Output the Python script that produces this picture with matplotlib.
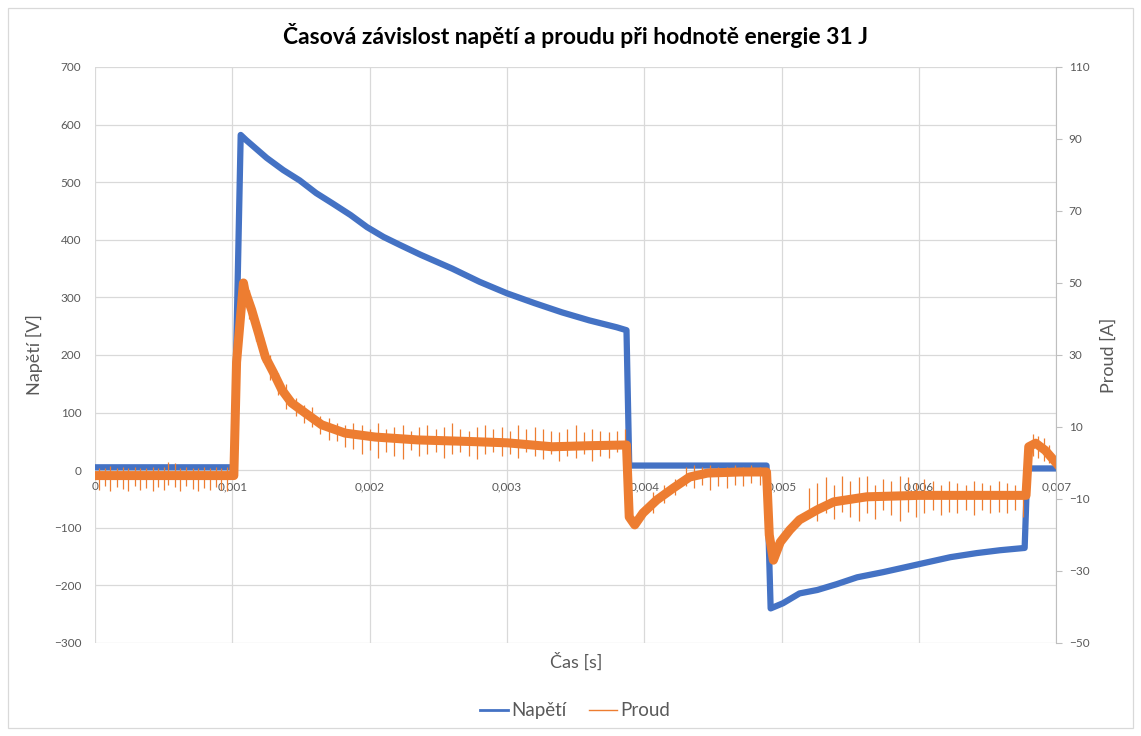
import numpy as np
import matplotlib
matplotlib.use("Agg")
import matplotlib.pyplot as plt
from matplotlib.lines import Line2D
from matplotlib.patches import Rectangle

plt.rcParams['font.family'] = ['Lato', 'DejaVu Sans']

# Voltage trace (time in ms, voltage in V)
V_T_MS = [0, 1.01, 1.06, 1.10, 1.25, 1.37, 1.49, 1.61, 1.73, 1.86, 1.98, 2.10, 2.22,
          2.37, 2.60, 2.80, 3.00, 3.20, 3.40, 3.60, 3.80, 3.87, 3.89,
          4.89, 4.92, 5.01, 5.13, 5.26, 5.40, 5.55, 5.74, 5.91, 6.06, 6.23, 6.42, 6.59,
          6.77, 6.79, 7.00]
V_VALUES = [5, 5, 582, 573, 542, 521, 503, 481, 463, 443, 422, 405, 391,
            374, 350, 327, 307, 290, 274, 260, 248, 243, 8,
            8, -240, -231, -214, -208, -198, -186, -177, -168, -160, -151, -144, -139,
            -135, 3, 3]

# Current trace (time in ms, current in A)
I_T_MS = [0, 1.01, 1.03, 1.08, 1.09, 1.14, 1.19, 1.24, 1.30, 1.36, 1.43, 1.53, 1.65,
          1.82, 2.04, 2.35, 2.70, 3.00, 3.33, 3.60, 3.87, 3.89, 3.93, 3.99, 4.09,
          4.21, 4.33, 4.46, 4.70, 4.89, 4.91, 4.94, 4.99, 5.06, 5.13, 5.26, 5.38,
          5.62, 6.00, 6.40, 6.78, 6.80, 6.85, 6.92, 7.00]
I_VALUES = [-3.5, -3.5, 28, 50, 48, 42.5, 36, 29.4, 25, 20.3, 16.7, 13.9, 10.6,
            8.3, 7.2, 6.4, 6.0, 5.6, 4.5, 4.8, 5.0, -15, -17.2, -13.9, -10.3,
            -7.0, -3.9, -2.8, -2.5, -2.5, -20, -27, -22, -18.6, -15.8, -13, -10.8,
            -9.4, -9.0, -9.0, -9.0, 4.5, 5.5, 3.5, 0]

# Noise spikes on the current trace (time in ms, low and high ends in A)
SPIKE_T_MS = [0.03, 0.07, 0.11, 0.16, 0.20, 0.24, 0.29, 0.33, 0.37, 0.42, 0.46, 0.50,
              0.53, 0.58, 0.62, 0.66, 0.71, 0.75, 0.79, 0.84, 0.88, 0.92, 0.96,
              1.12, 1.17, 1.22, 1.27, 1.33, 1.39, 1.46, 1.52, 1.58, 1.64, 1.70, 1.76,
              1.82, 1.88,
              1.94, 2.00, 2.06, 2.12, 2.18, 2.24, 2.30, 2.36, 2.42, 2.48, 2.54, 2.60,
              2.66, 2.72, 2.78, 2.84, 2.90, 2.96, 3.02, 3.08, 3.14, 3.20, 3.26, 3.32,
              3.38, 3.44, 3.50, 3.56, 3.62, 3.68, 3.74, 3.80, 3.86,
              4.06, 4.14, 4.22, 4.30, 4.36, 4.42, 4.48, 4.54, 4.60, 4.66, 4.72, 4.78,
              4.84,
              5.20, 5.26, 5.32, 5.38, 5.44, 5.50, 5.56, 5.62, 5.68, 5.74, 5.80, 5.86,
              5.92, 5.98, 6.04, 6.10, 6.16, 6.22, 6.28, 6.34, 6.40, 6.46, 6.52, 6.58,
              6.64, 6.70, 6.76,
              6.83, 6.87, 6.91, 6.95, 6.99]
SPIKE_LO = [-7.5, -6.5, -7.8, -6.8, -7.2, -7.9, -6.4, -7.5, -6.9, -7.7, -6.6, -7.4,
            -6.2, -6.8, -7.9, -6.5, -7.3, -7.8, -6.9, -7.6, -6.7, -7.4, -7.9,
            40, 34, 28, 23, 19, 15, 13, 11, 10, 8, 6.5, 6, 4.5, 4,
            2.5, 3.5, 1.5, 3.0, 2.0, 1.0, 3.5, 2.0, 2.5, 3.0, 1.5, 2.5, 3.0, 2.0, 1.0,
            2.5, 3.0, 2.0, 2.5, 1.5, 3.0, 2.0, 1.0, 2.5, 0.5, 2.0, 1.5, 2.5, 0.5, 2.0,
            1.5, 3.0, 1.0,
            -14, -11, -9, -6.5, -7, -6, -7.5, -6.5, -7, -6, -6.5, -5.5, -6,
            -15, -16, -14, -15.5, -13.5, -15, -16, -14, -15.5, -13, -14.5, -16, -13.5,
            -15, -14, -13, -14.5, -13.5, -14, -13, -14.5, -13, -14, -13.5, -14, -13,
            -15,
            2, 1.5, 0.5, 0, -1.5]
SPIKE_HI = [-1.5, -1.5, -0.8, -1.5, -1.2, -1.5, -1.0, -1.5, -1.5, -1.2, -1.5, -1.0,
            0.3, 0.0, -1.5, -1.2, -1.5, -1.5, -1.0, -1.5, -1.2, -1.5, -1.0,
            48, 41, 35, 30, 25, 22, 18, 16, 15.5, 13, 12.5, 11, 10.5, 11,
            10.5, 9.5, 11, 9.5, 10, 10.5, 9, 10, 10.5, 9.5, 10, 11, 9.5, 9, 10, 10.5,
            9.5, 10, 9, 10.5, 9.5, 10, 9.5, 9, 8.5, 9.5, 10.5, 8.5, 9.5, 9, 8.5, 9, 9.5,
            -8, -6, -4.5, -1, -0.5, -1, -0.5, -1, -1, -0.5, -1, -0.5, -1,
            -7, -5.5, -4, -6, -3.5, -5, -4, -3.5, -6, -4.5, -5, -3.5, -4, -5.5, -4.5,
            -5, -6, -5, -5.5, -6, -5, -5.5, -6, -5, -5.5, -6, -5.5,
            8, 7.5, 7, 5, 2]

X_TICKS_MS = [0, 1, 2, 3, 4, 5, 6, 7]
X_TICK_LABELS = ["0", "0,001", "0,002", "0,003", "0,004", "0,005", "0,006", "0,007"]
V_TICKS = [-300, -200, -100, 0, 100, 200, 300, 400, 500, 600, 700]
I_TICKS = [-50, -30, -10, 10, 30, 50, 70, 90, 110]

BLUE = '#4472C4'
ORANGE = '#ED7D31'
GRID = '#D9D9D9'
TEXT = '#595959'


def main():
    fig = plt.figure(figsize=(11.41, 7.36), dpi=100)
    ax = fig.add_axes([0.0834, 0.1264, 0.8423, 0.7826])
    ax2 = ax.twinx()

    ms = 1e-3
    ax.plot(np.array(V_T_MS) * ms, V_VALUES, color=BLUE, linewidth=4.5)
    ax2.plot(np.array(I_T_MS) * ms, I_VALUES, color=ORANGE, linewidth=6.5)
    ax2.vlines(np.array(SPIKE_T_MS) * ms, SPIKE_LO, SPIKE_HI, color=ORANGE, linewidth=0.9)

    # primary axis: Excel-like layout
    ax.set_xlim(0, 0.007)
    ax.set_ylim(-300, 700)
    ax.set_yticks(V_TICKS)
    ax.set_xticks(np.array(X_TICKS_MS) * ms)
    ax.set_xticklabels(X_TICK_LABELS)
    for s in ax.spines.values():
        s.set_visible(False)
    ax.spines['bottom'].set_position(('data', 0))
    ax.grid(True, color=GRID, linewidth=0.9)
    ax.set_axisbelow(True)
    ax.tick_params(axis='y', length=0, pad=10, labelsize=8.5, labelcolor=TEXT)
    ax.tick_params(axis='x', length=0, pad=8, labelsize=8.5, labelcolor=TEXT)
    ax.set_ylabel('Napětí [V]', fontsize=13, color=TEXT, labelpad=8)
    ax.set_xlabel('Čas [s]', fontsize=13, color=TEXT)
    ax.xaxis.set_label_coords(0.5, -0.016, transform=ax.transAxes)
    ax.xaxis.label.set_va('top')

    # secondary axis
    ax2.set_ylim(-50, 110)
    ax2.set_yticks(I_TICKS)
    for name, s in ax2.spines.items():
        s.set_visible(name == 'right')
    ax2.spines['right'].set_color('#BFBFBF')
    ax2.tick_params(axis='y', length=4, width=0.8, color='#BFBFBF', pad=5,
                    labelsize=8.5, labelcolor=TEXT)
    ax2.set_ylabel('Proud [A]', fontsize=13, color=TEXT, labelpad=8)

    fig.text(0.504, 0.952, 'Časová závislost napětí a proudu při hodnotě energie 31 J',
             ha='center', va='center', fontsize=16.5, fontweight='bold', color='black')

    handles = [Line2D([0], [0], color=BLUE, linewidth=2),
               Line2D([0], [0], color=ORANGE, linewidth=1)]
    fig.legend(handles, ['Napětí', 'Proud'], loc='center', bbox_to_anchor=(0.504, 0.034),
               ncol=2, frameon=False, fontsize=13.5, labelcolor=TEXT,
               handlelength=1.5, handletextpad=0.15, columnspacing=1.2)

    fig.patches.append(Rectangle((0.007, 0.011), 0.986, 0.978, transform=fig.transFigure,
                                 fill=False, edgecolor=GRID, linewidth=0.9))

    fig.savefig('out.png', dpi=100, facecolor='white')
    plt.close(fig)


if __name__ == '__main__':
    main()
